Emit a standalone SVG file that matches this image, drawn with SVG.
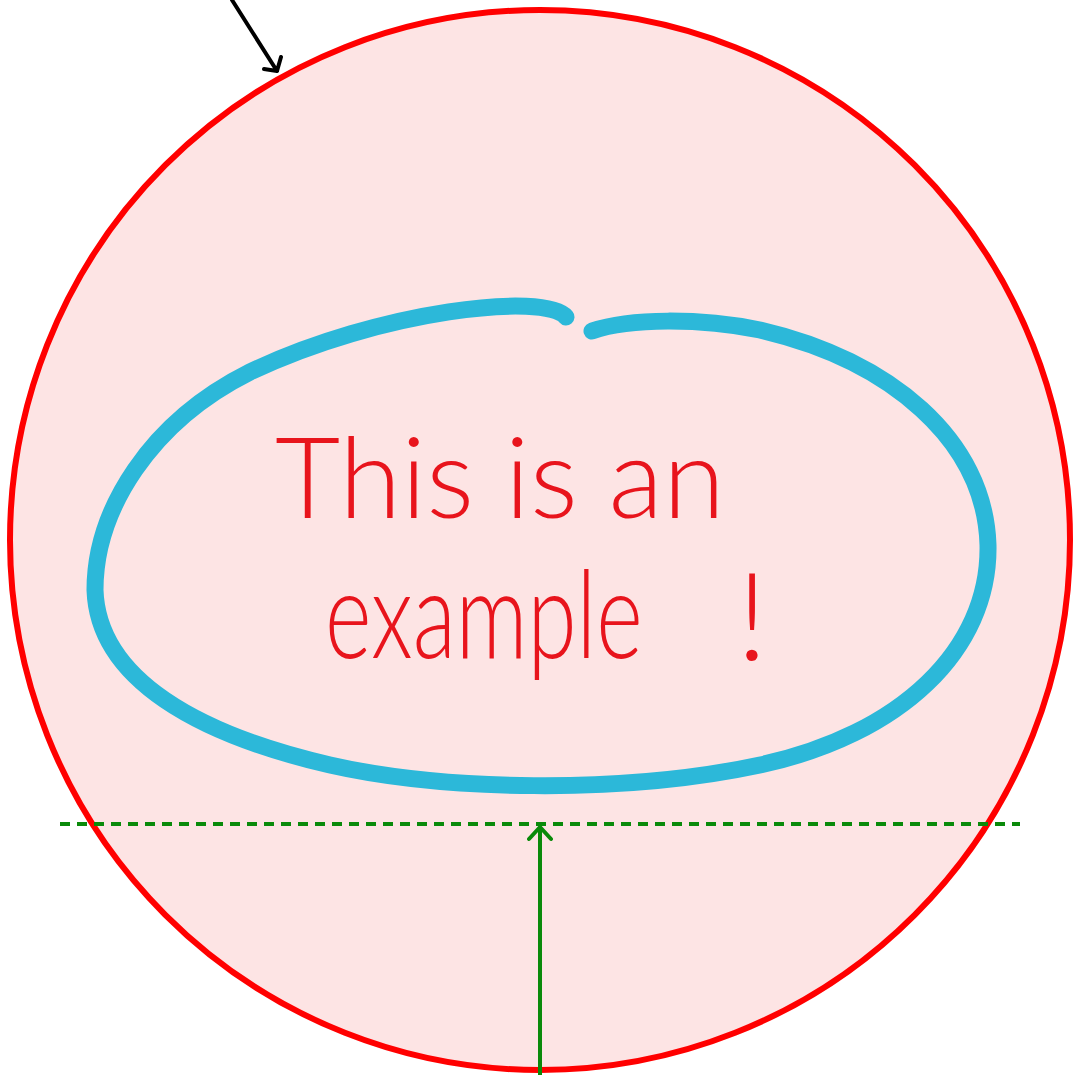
<svg xmlns="http://www.w3.org/2000/svg" width="1077" height="1075" viewBox="0 0 1077 1075">
  <style>
    .hand { font-family: "Lato", "Liberation Sans", sans-serif; font-weight: 300; fill: #e8141c; }
    .blk { stroke: #000; stroke-width: 4; fill: none; stroke-linecap: round; stroke-linejoin: round; }
    .grn { stroke: #0a8a0a; stroke-width: 4; fill: none; stroke-linecap: round; stroke-linejoin: round; }
  </style>
  <rect width="1077" height="1075" fill="#ffffff"/>
  <g id="circle-node">
    <circle cx="540" cy="540" r="530" fill="#fde4e4" stroke="#ff0000" stroke-width="6"/>
    <path d="M 566 317 C 545 292, 380 310, 250 372 C 150 422, 95 510, 95 590 C 98 680, 200 735, 330 765 C 440 790, 620 795, 760 765 C 900 735, 990 650, 988 545 C 985 440, 890 360, 760 330 C 700 318, 630 318, 592 331" fill="none" stroke="#2cb8d9" stroke-width="17" stroke-linecap="round"/>
    <text class="hand" x="275" y="518" font-size="112" textLength="450" lengthAdjust="spacingAndGlyphs">This is an</text>
    <text class="hand" font-size="122" transform="translate(325 658) scale(0.73 1)">example</text>
    <text class="hand" x="752" y="660" font-size="122" text-anchor="middle">!</text>
  </g>
  <g id="connectors">
    <line x1="60" y1="824" x2="1020" y2="824" stroke="#0a8a0a" stroke-width="4" stroke-dasharray="10 7"/>
    <path class="grn" d="M 540 1075 L 540 827 M 529 839 L 540 827 L 551 839"/>
    <path class="blk" d="M 232 0 L 277 71 M 264 69 L 277 71 L 281 57"/>
  </g>
</svg>
